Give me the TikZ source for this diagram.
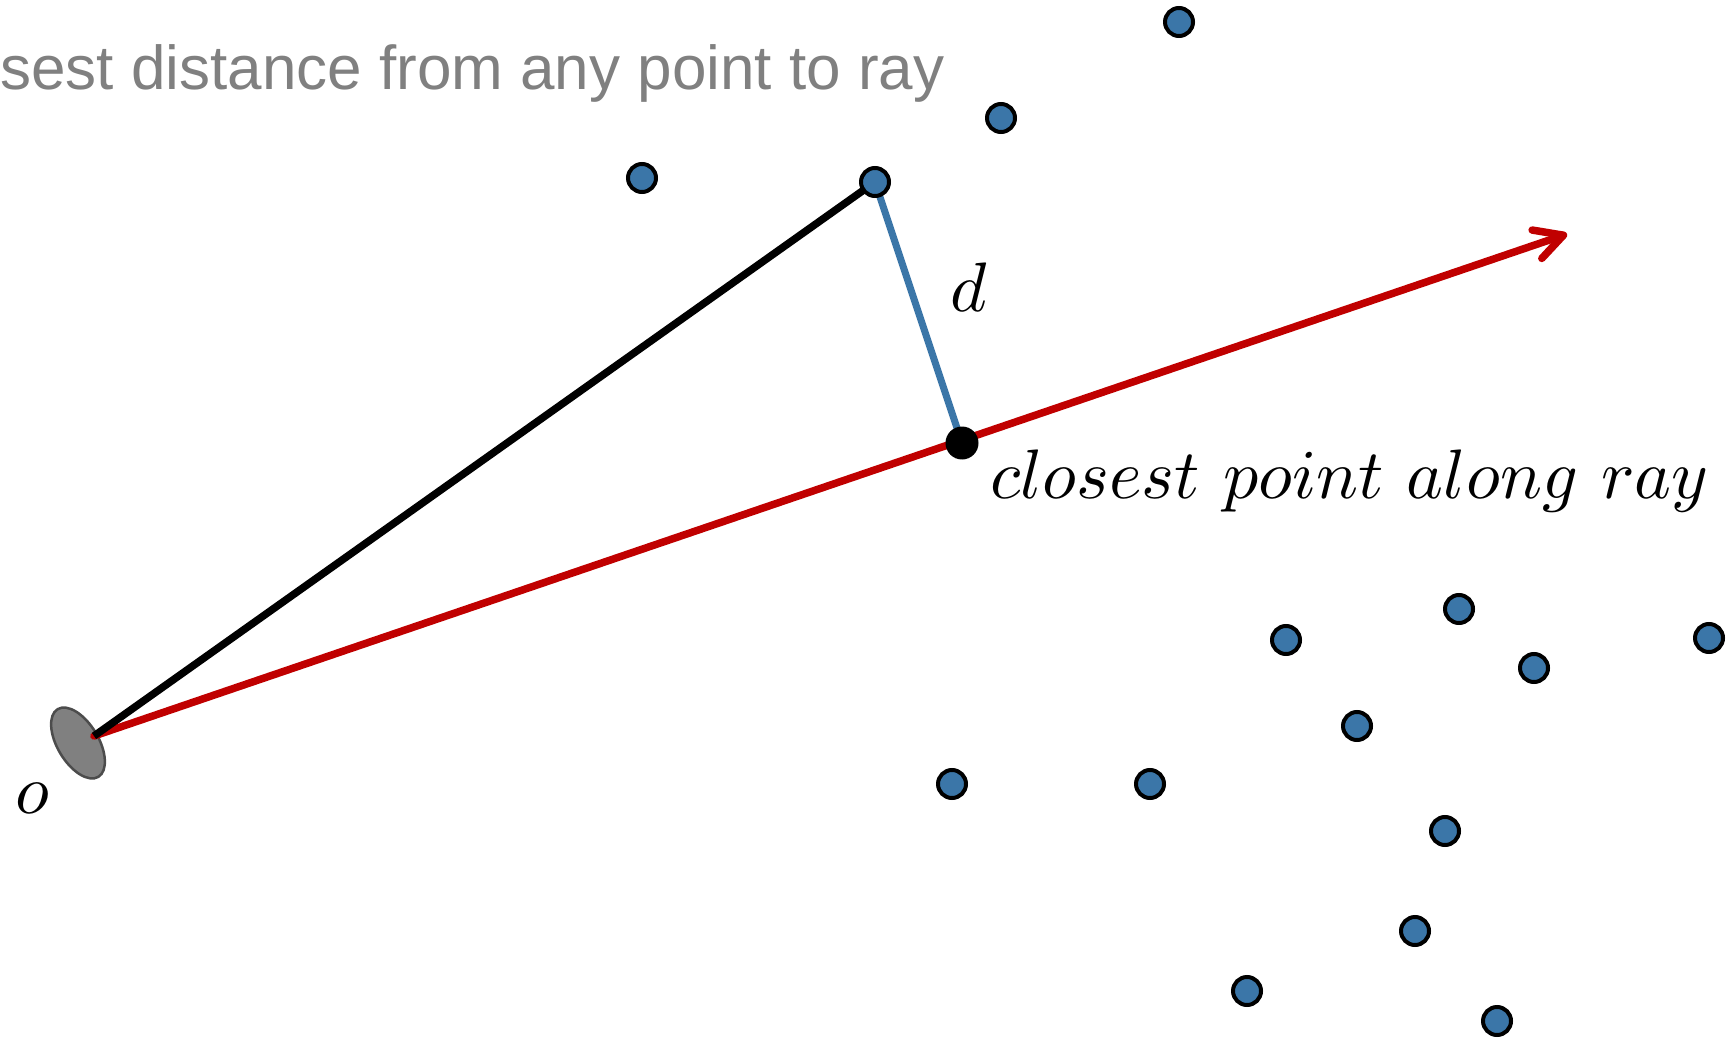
\documentclass[tikz,border=0pt]{standalone}
\usepackage{fontspec}
\newfontfamily\arialfont{Liberation Sans}
\usetikzlibrary{arrows.meta,shapes.geometric}
\definecolor{dotblue}{RGB}{59,118,168}
\definecolor{rayred}{RGB}{192,0,0}
\definecolor{captgray}{RGB}{128,128,128}
\tikzset{
  bluedot/.style={circle,draw=black,line width=4pt,fill=dotblue,minimum size=28pt,inner sep=0pt},
  blackdot/.style={circle,fill=black,minimum size=33pt,inner sep=0pt},
  mathlabel/.style={inner sep=0pt},
  rayline/.style={draw=rayred,line width=7.5pt,line cap=round},
}
\newcommand{\bigmath}[1]{\scalebox{7}{$#1$}}
\begin{document}
\begin{tikzpicture}[x=1pt,y=-1pt]
\useasboundingbox (0,0) rectangle (1729,1040);
% caption
\node[anchor=base west,inner sep=0pt,text=captgray,font=\arialfont\fontsize{62}{74}\selectfont] (cap) at (0,90) {sest distance from any point to ray};
% origin ellipse
\node[ellipse,draw=black!70,line width=2.5pt,fill=captgray,minimum width=79pt,minimum height=41pt,inner sep=0pt,rotate=-59] (o) at (78,743) {};
\coordinate (os) at (94,736);
% points
\node[bluedot] (p1) at (1179,22) {};
\node[bluedot] (p2) at (1001,118) {};
\node[bluedot] (p3) at (642,178) {};
\node[bluedot] (p5) at (1459,609) {};
\node[bluedot] (p6) at (1286,640) {};
\node[bluedot] (p7) at (1709,638) {};
\node[bluedot] (p8) at (1534,668) {};
\node[bluedot] (p9) at (1357,726) {};
\node[bluedot] (p10) at (952,784) {};
\node[bluedot] (p11) at (1150,784) {};
\node[bluedot] (p12) at (1445,831) {};
\node[bluedot] (p13) at (1415,931) {};
\node[bluedot] (p14) at (1247,991) {};
\node[bluedot] (p15) at (1497,1021) {};
\coordinate (tip) at (1567,234);
% lines
\draw[rayline,-{Straight Barb[length=28pt,width=30pt,line cap=round,line join=round]}] (os) -- (tip);
\draw[black,line width=7.5pt] (os) -- (875,182) coordinate (pc);
\draw[dotblue,line width=7pt] (pc) -- (962,443) coordinate (cc);
\node[bluedot] (p) at (pc) {};
\node[blackdot] (c) at (cc) {};
% labels
\node[mathlabel,anchor=base west] (dl) at (950,312) {\bigmath{d}};
\node[mathlabel,anchor=base west] (cl) at (990,498) {\bigmath{closest\ point\ along\ ray}};
\node[mathlabel,anchor=base] (ol) at (32,813) {\bigmath{o}};
\end{tikzpicture}
\end{document}
